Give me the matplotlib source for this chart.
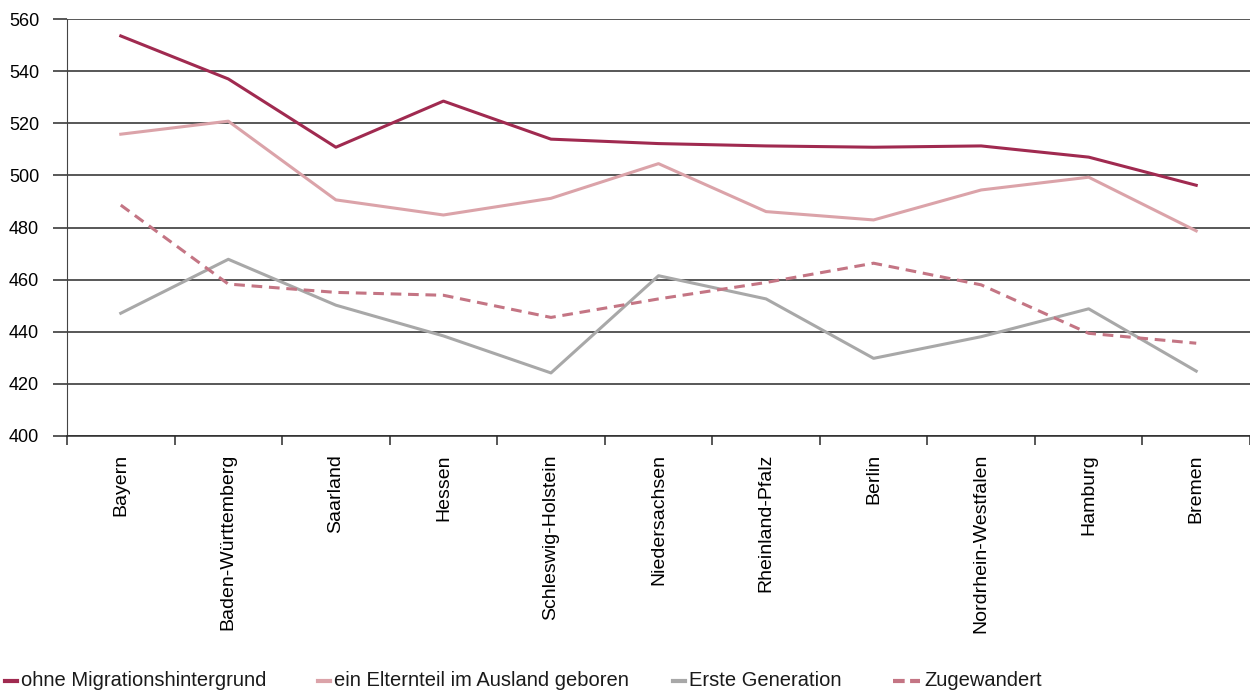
import matplotlib
matplotlib.use("Agg")
import matplotlib.pyplot as plt
from matplotlib.lines import Line2D

plt.rcParams['font.family'] = ['Liberation Sans', 'DejaVu Sans']

laender = ['Bayern', 'Baden-Württemberg', 'Saarland', 'Hessen', 'Schleswig-Holstein',
           'Niedersachsen', 'Rheinland-Pfalz', 'Berlin', 'Nordrhein-Westfalen',
           'Hamburg', 'Bremen']

ohne_migration = [553.5, 537, 510.8, 528.5, 513.9, 512.2, 511.3, 510.8, 511.3, 507, 496.2]
ein_elternteil = [515.8, 520.8, 490.6, 484.8, 491.2, 504.5, 486.1, 482.9, 494.4, 499.3, 478.7]
erste_generation = [447.1, 467.8, 450.2, 438.4, 424.2, 461.5, 452.6, 429.8, 438.1, 448.8, 424.9]
zugewandert = [488.6, 458.3, 455.1, 454.0, 445.5, 452.6, 458.9, 466.3, 458.0, 439.4, 435.6]

serien = [
    ('ohne Migrationshintergrund', ohne_migration, '#A02A50', '-'),
    ('ein Elternteil im Ausland geboren', ein_elternteil, '#DBA3A9', '-'),
    ('Erste Generation', erste_generation, '#A8A8A8', '-'),
    ('Zugewandert', zugewandert, '#C47584', (0, (3.5, 2.2))),
]

W, H = 1250, 690
fig = plt.figure(figsize=(W / 100, H / 100), dpi=100)
ax = fig.add_axes([67 / W, 1 - 436 / H, 1 - 67 / W, 417 / H])

x = list(range(len(laender)))
for name, werte, farbe, stil in serien:
    ax.plot(x, werte, color=farbe, linestyle=stil, linewidth=2.2, label=name)

ax.set_xlim(-0.5, len(laender) - 0.5)
ax.set_ylim(400, 560)
ax.set_yticks(range(400, 561, 20))
ax.yaxis.grid(True, color='#2a2a2a', linewidth=1.1)
ax.set_axisbelow(True)

ax.set_xticks(x)
ax.set_xticklabels(laender, rotation=90, fontsize=14)
ax.set_xticks([i - 0.5 for i in range(len(laender) + 1)], minor=True)
ax.tick_params(axis='x', which='major', length=0, pad=13)
ax.tick_params(axis='x', which='minor', length=6.5, width=1.1, color='#2a2a2a')
ax.tick_params(axis='y', length=10, width=1.1, color='#2a2a2a', labelsize=13, pad=10)

for s in ['top', 'right']:
    ax.spines[s].set_visible(False)
ax.spines['left'].set_color('#444444')
ax.spines['bottom'].set_color('#2a2a2a')
ax.spines['bottom'].set_linewidth(1.1)

# Legende unten, von Hand gesetzt (Excel-Stil)
start_px = [5, 318, 673, 893]
laenge_px = [12, 12, 12, 27]
y_leg = 1 - 681 / H
for (name, _, farbe, stil), x0, l in zip(serien, start_px, laenge_px):
    ls = (0, (2.8, 1.3)) if stil != '-' else '-'
    fig.add_artist(Line2D([x0 / W, (x0 + l) / W], [y_leg, y_leg], color=farbe,
                          linewidth=3, linestyle=ls, transform=fig.transFigure))
    fig.text((x0 + l + 4) / W, y_leg, name, fontsize=14.5, va='center', ha='left',
             color='#1a1a1a')

fig.savefig('out.png', dpi=100)
